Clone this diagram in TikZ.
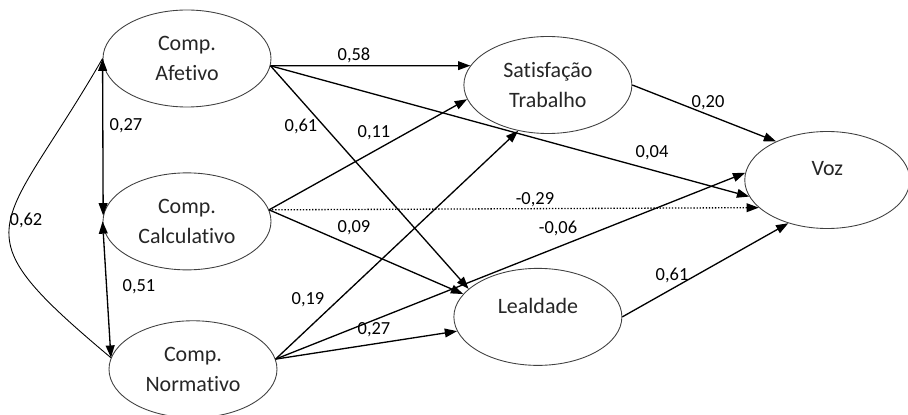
\documentclass[tikz,border=0pt]{standalone}
\usepackage{fontspec}
\setmainfont{Carlito}[RawFeature=-liga,RawFeature=-clig,RawFeature=-calt,RawFeature=-dlig]
\usetikzlibrary{arrows.meta,shapes,positioning}

\begin{document}
\begin{tikzpicture}[
    lat/.style={ellipse,draw=black!75,line width=0.5pt,minimum width=3.36cm,minimum height=1.94cm,inner sep=0pt,align=center,font=\fontsize{12.5}{17}\selectfont,text=black!85},
    raised/.style={text depth=13pt},
    coef/.style={font=\fontsize{10.5}{12}\selectfont,inner sep=1pt},
    arrow/.style={line width=0.75pt,-{Triangle[length=7pt,width=5pt]}},
    bidir/.style={line width=0.75pt,{Triangle[length=7pt,width=5pt]}-{Triangle[length=7pt,width=5pt]}},
    cov/.style={line width=0.5pt}
]
    \useasboundingbox (0,0) rectangle (18.16,8.28);

    \node[lat] (afe) at (3.74,7.11) {Comp.\\Afetivo};
    \node[lat,below=1.3cm of afe] (calc) {Comp.\\Calculativo};
    \node[lat,below=1.0cm of calc,xshift=0.12cm] (norm) {Comp.\\Normativo};
    \node[lat,right=3.84cm of afe,yshift=-0.53cm] (sat) {Satisfação\\Trabalho};
    \node[lat,raised,below=2.68cm of sat,xshift=-0.2cm] (leal) {Lealdade};
    \node[lat,raised,minimum width=3.3cm,right=2.24cm of sat,yshift=-1.9cm] (voz) {Voz};

    \draw[bidir] (afe.west) -- (calc.176);
    \draw[bidir] (calc.west) -- (norm.172);
    \draw[cov] (afe.west) to[out=240,in=140,looseness=1.75] (norm.172);

    \draw[arrow] (afe.-5) -- (sat.166);
    \draw[arrow] (afe.-5) -- (leal.158);
    \draw[arrow] (afe.-5) -- (voz.192);
    \draw[arrow] (calc.8) -- (sat.190);
    \draw[arrow,densely dotted] (calc.8) -- (voz.202);
    \draw[arrow] (calc.8) -- (leal.163);
    \draw[arrow] (norm.7) -- (sat.237);
    \draw[arrow] (norm.7) -- (leal.190);
    \draw[arrow] (norm.7) -- (voz.175);
    \draw[arrow] (sat.east) -- (voz.143);
    \draw[arrow] (leal.east) -- (voz.228);

    \node[coef] (c-afe-calc) at (2.52,5.76) {0,27};
    \node[coef] (c-calc-norm) at (2.78,2.54) {0,51};
    \node[coef] (c-afe-norm) at (0.52,3.88) {0,62};
    \node[coef] (c-afe-sat) at (7.08,7.18) {0,58};
    \node[coef] (c-afe-leal) at (6.02,5.76) {0,61};
    \node[coef] (c-calc-sat) at (7.48,5.62) {0,11};
    \node[coef] (c-afe-voz) at (13.04,5.22) {0,04};
    \node[coef] (c-sat-voz) at (14.16,6.22) {0,20};
    \node[coef] (c-calc-voz) at (10.70,4.28) {-0,29};
    \node[coef] (c-calc-leal) at (7.08,3.72) {0,09};
    \node[coef] (c-norm-voz) at (11.16,3.72) {-0,06};
    \node[coef] (c-norm-sat) at (6.16,2.28) {0,19};
    \node[coef] (c-norm-leal) at (7.48,1.68) {0,27};
    \node[coef] (c-leal-voz) at (13.44,2.78) {0,61};
\end{tikzpicture}
\end{document}
